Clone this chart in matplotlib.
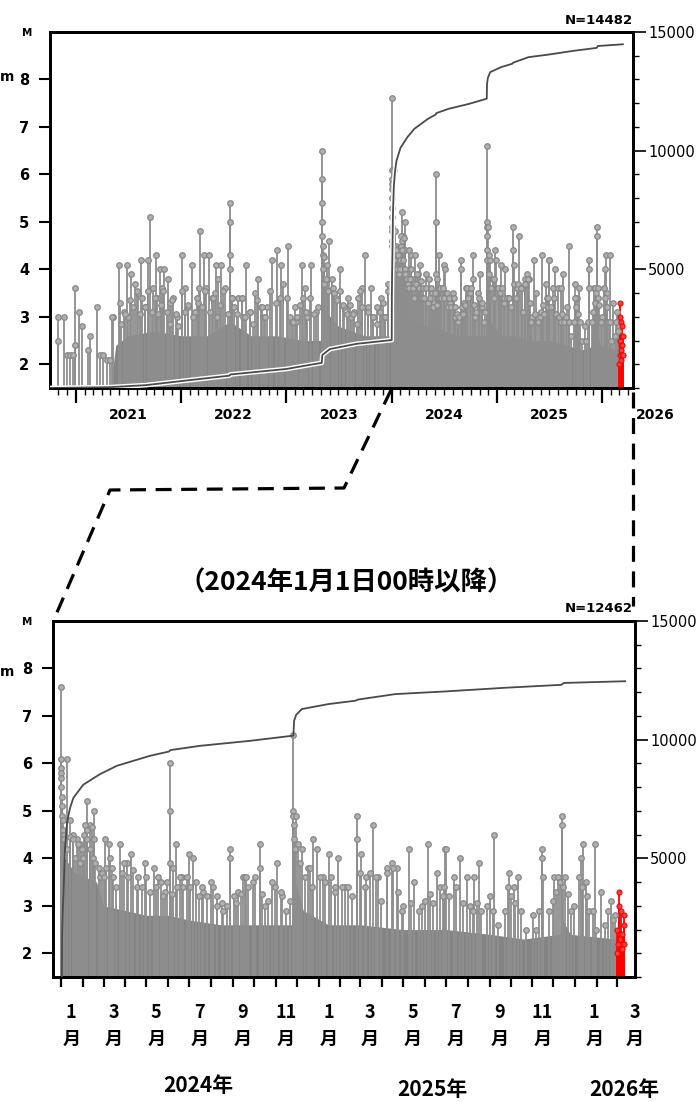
import matplotlib
matplotlib.use('Agg')
import matplotlib.pyplot as plt
import matplotlib.dates as mdates
import matplotlib.patheffects as pe
from matplotlib.lines import Line2D
from matplotlib.ticker import MultipleLocator, NullFormatter
from matplotlib.transforms import blended_transform_factory
import pandas as pd

JP = ['Noto Sans CJK JP', 'DejaVu Sans']

# --- larger events before 2024 (upper panel only) ---
old_dates = ['2020-11-02', '2020-11-02', '2020-11-23', '2020-12-03', '2020-12-13', '2020-12-22',
             '2020-12-28', '2020-12-28', '2021-01-14', '2021-01-22', '2021-02-12', '2021-02-20',
             '2021-03-15', '2021-03-26', '2021-04-06', '2021-04-20', '2021-04-30', '2021-05-12',
             '2021-05-30', '2021-06-05', '2021-06-19', '2021-06-27', '2021-07-03', '2021-07-12',
             '2021-07-24', '2021-08-05', '2021-08-17', '2021-08-30', '2021-09-10', '2021-09-16',
             '2021-09-27', '2021-10-06', '2021-10-10', '2021-10-21', '2021-10-27', '2021-11-02',
             '2021-11-18', '2021-11-25', '2021-12-06', '2021-12-17', '2022-01-03', '2022-01-15',
             '2022-01-26', '2022-02-08', '2022-02-19', '2022-02-28', '2022-03-08', '2022-03-22',
             '2022-03-29', '2022-04-08', '2022-04-17', '2022-04-28', '2022-05-04', '2022-05-09',
             '2022-05-19', '2022-06-02', '2022-06-19', '2022-06-19', '2022-06-20', '2022-06-20',
             '2022-07-05', '2022-07-18', '2022-07-30', '2022-08-05', '2022-08-14', '2022-08-28',
             '2022-09-14', '2022-09-26', '2022-10-07', '2022-10-15', '2022-10-25', '2022-11-14',
             '2022-11-25', '2022-12-01', '2022-12-15', '2023-01-07', '2023-01-20', '2023-01-30',
             '2023-02-03', '2023-02-23', '2023-03-06', '2023-03-15', '2023-03-29', '2023-04-15',
             '2023-05-05', '2023-05-05', '2023-05-05', '2023-05-06', '2023-05-06', '2023-05-07',
             '2023-05-08', '2023-05-10', '2023-05-20', '2023-05-30', '2023-06-07', '2023-06-15',
             '2023-06-24', '2023-07-07', '2023-07-20', '2023-08-03', '2023-08-15', '2023-08-25',
             '2023-09-05', '2023-09-19', '2023-09-30', '2023-10-12', '2023-10-23', '2023-10-30',
             '2023-11-10', '2023-11-25', '2023-12-03', '2023-12-10', '2023-12-18']
old_mag = [3.0, 2.5, 3.0, 2.2, 2.2, 2.2,
           3.6, 2.4, 3.1, 2.8, 2.3, 2.6,
           3.2, 2.2, 2.2, 2.1, 2.1, 3.0,
           4.1, 3.3, 3.1, 4.1, 3.0, 3.9,
           3.7, 3.5, 4.2, 3.2, 4.2, 5.1,
           3.6, 4.3, 3.4, 4.0, 3.6, 4.0,
           3.8, 3.3, 3.4, 3.0, 4.3, 3.6,
           3.2, 4.1, 3.1, 3.3, 4.8, 4.3,
           3.6, 4.3, 3.4, 3.5, 4.1, 3.8,
           4.1, 3.6, 5.4, 5.0, 4.3, 4.0,
           3.2, 3.4, 3.4, 3.0, 4.1, 3.1,
           3.5, 3.8, 3.2, 3.0, 3.2, 4.2,
           3.3, 4.4, 4.1, 4.5, 2.9, 3.2,
           2.9, 4.1, 3.6, 3.0, 4.1, 3.1,
           6.5, 5.9, 5.4, 5.0, 4.7, 4.5,
           4.3, 4.0, 3.8, 4.6, 3.8, 3.5,
           3.4, 4.0, 3.2, 3.4, 3.0, 3.1,
           3.4, 3.6, 4.3, 3.2, 3.6, 3.0,
           3.2, 3.4, 3.3, 3.0, 3.7]

# smaller events sticking out of the dense mass, before 2024
old_mid_dates = ['2021-05-06', '2021-06-07', '2021-06-21', '2021-07-08', '2021-07-20', '2021-07-31',
                 '2021-08-12', '2021-08-20', '2021-08-29', '2021-09-10', '2021-09-21', '2021-10-03',
                 '2021-10-12', '2021-10-24', '2021-11-01', '2021-11-12', '2021-11-24', '2021-12-02',
                 '2021-12-14', '2021-12-23', '2022-01-06', '2022-01-15', '2022-01-27', '2022-02-13',
                 '2022-02-24', '2022-03-05', '2022-03-14', '2022-03-25', '2022-04-11', '2022-04-23',
                 '2022-05-05', '2022-05-16', '2022-05-28', '2022-06-12', '2022-06-26', '2022-06-27',
                 '2022-07-13', '2022-07-30', '2022-08-11', '2022-08-28', '2022-09-09', '2022-09-20',
                 '2022-10-08', '2022-10-19', '2022-11-05', '2022-12-10', '2022-12-22', '2023-01-02',
                 '2023-01-14', '2023-01-25', '2023-02-06', '2023-02-17', '2023-03-01', '2023-03-12',
                 '2023-03-24', '2023-04-08', '2023-04-22', '2023-05-12', '2023-05-12', '2023-05-21',
                 '2023-05-27', '2023-06-13', '2023-06-25', '2023-07-07', '2023-07-18', '2023-07-30',
                 '2023-08-10', '2023-08-22', '2023-09-02', '2023-09-14', '2023-09-22', '2023-10-12',
                 '2023-10-29', '2023-11-13', '2023-11-21', '2023-12-08', '2023-12-20']
old_mid_mag = [3.0, 2.85, 3.05, 3.35, 3.2, 3.55,
               3.05, 3.4, 3.2, 3.55, 3.1, 3.4,
               3.05, 3.25, 3.55, 3.1, 2.85, 3.35,
               3.05, 2.8, 3.55, 3.1, 3.25, 3.0,
               3.4, 3.6, 3.2, 3.55, 3.1, 3.4,
               3.0, 3.25, 3.55, 3.05, 3.4, 3.4,
               3.05, 3.4, 3.0, 3.1, 2.85, 3.35,
               3.2, 3.0, 3.55, 3.4, 3.7, 3.4,
               3.0, 2.9, 3.0, 3.25, 3.4, 3.1,
               3.4, 3.05, 3.2, 4.25, 3.7, 4.1,
               3.55, 3.6, 3.35, 3.55, 3.25, 3.05,
               3.25, 3.05, 2.85, 3.55, 3.2, 3.1,
               3.0, 2.85, 3.1, 3.0, 3.55]

# --- larger events since 2024-01-01 (both panels) ---
new_dates = ['2024-01-01', '2024-01-01', '2024-01-01', '2024-01-01', '2024-01-01', '2024-01-01',
             '2024-01-02', '2024-01-02', '2024-01-02', '2024-01-03', '2024-01-03', '2024-01-04',
             '2024-01-05', '2024-01-09', '2024-01-09', '2024-01-13', '2024-01-17', '2024-01-23',
             '2024-01-28', '2024-02-02', '2024-02-07', '2024-02-07', '2024-02-11', '2024-02-16',
             '2024-02-16', '2024-02-25', '2024-03-03', '2024-03-08', '2024-03-13', '2024-03-24',
             '2024-04-03', '2024-04-09', '2024-04-17', '2024-04-29', '2024-05-11', '2024-05-21',
             '2024-05-27', '2024-06-03', '2024-06-03', '2024-06-03', '2024-06-08', '2024-06-12',
             '2024-06-20', '2024-07-01', '2024-07-06', '2024-07-10', '2024-07-21', '2024-08-01',
             '2024-08-09', '2024-08-18', '2024-08-28', '2024-08-28', '2024-09-08', '2024-09-16',
             '2024-09-18', '2024-09-29', '2024-10-10', '2024-10-10', '2024-10-17', '2024-11-03',
             '2024-11-10', '2024-11-26', '2024-11-26', '2024-11-26', '2024-11-27', '2024-11-27',
             '2024-11-28', '2024-11-30', '2024-12-08', '2024-12-17', '2024-12-24', '2024-12-29',
             '2025-01-07', '2025-01-16', '2025-01-24', '2025-01-29', '2025-02-08', '2025-02-24',
             '2025-02-24', '2025-03-02', '2025-03-10', '2025-03-19', '2025-03-27', '2025-04-08',
             '2025-04-15', '2025-04-22', '2025-05-01', '2025-05-09', '2025-05-17', '2025-05-28',
             '2025-06-06', '2025-06-18', '2025-06-29', '2025-07-01', '2025-07-12', '2025-07-21',
             '2025-07-31', '2025-08-10', '2025-08-17', '2025-08-28', '2025-09-01', '2025-09-08',
             '2025-09-29', '2025-10-06', '2025-10-11', '2025-11-02', '2025-11-15', '2025-11-15',
             '2025-12-02', '2025-12-07', '2025-12-13', '2025-12-13', '2025-12-18', '2025-12-30',
             '2026-01-09', '2026-01-12', '2026-01-16', '2026-01-29', '2026-02-07', '2026-02-21',
             '2026-02-27']
new_mag = [7.6, 6.1, 5.9, 5.8, 5.7, 5.5,
           5.3, 5.1, 4.9, 4.8, 4.6, 4.5,
           4.4, 6.1, 4.2, 4.8, 4.5, 4.4,
           4.3, 4.5, 5.2, 4.6, 4.7, 5.0,
           4.4, 3.6, 4.4, 4.3, 3.8, 4.3,
           3.9, 4.1, 3.4, 3.9, 3.8, 3.5,
           3.3, 6.0, 5.0, 3.9, 3.8, 4.3,
           3.6, 4.1, 4.0, 3.5, 3.3, 3.5,
           3.0, 2.9, 4.2, 4.0, 3.3, 3.6,
           3.6, 3.5, 4.3, 3.8, 3.0, 3.9,
           3.2, 6.6, 5.0, 4.9, 4.7, 4.4,
           4.2, 4.9, 4.2, 3.8, 4.4, 4.2,
           3.6, 4.1, 3.3, 4.0, 3.4, 4.9,
           4.4, 4.1, 3.6, 4.7, 3.6, 3.8,
           3.9, 3.8, 3.0, 4.2, 3.5, 3.0,
           4.3, 3.7, 4.2, 4.2, 3.6, 4.0,
           3.6, 3.6, 3.9, 3.0, 3.2, 4.5,
           3.7, 3.4, 3.6, 2.8, 4.2, 4.0,
           3.6, 3.6, 4.9, 4.7, 3.6, 3.0,
           4.0, 4.3, 3.5, 4.3, 3.3, 3.1,
           2.8]

# smaller events sticking out of the dense mass, since 2024
new_mid_dates = ['2024-01-13', '2024-01-18', '2024-01-20', '2024-01-25', '2024-01-27', '2024-01-30',
                 '2024-02-01', '2024-02-04', '2024-02-06', '2024-02-10', '2024-02-13', '2024-02-15',
                 '2024-02-18', '2024-02-24', '2024-02-27', '2024-03-01', '2024-03-05', '2024-03-10',
                 '2024-03-15', '2024-03-19', '2024-03-27', '2024-03-30', '2024-04-05', '2024-04-12',
                 '2024-04-19', '2024-04-24', '2024-05-01', '2024-05-06', '2024-05-15', '2024-05-18',
                 '2024-05-25', '2024-05-30', '2024-06-06', '2024-06-14', '2024-06-18', '2024-06-22',
                 '2024-06-27', '2024-07-02', '2024-07-14', '2024-07-19', '2024-07-26', '2024-08-04',
                 '2024-08-09', '2024-08-16', '2024-08-23', '2024-09-02', '2024-09-06', '2024-09-13',
                 '2024-09-20', '2024-09-23', '2024-10-02', '2024-10-12', '2024-10-21', '2024-10-26',
                 '2024-10-31', '2024-11-09', '2024-11-16', '2024-11-21', '2024-12-03', '2024-12-05',
                 '2024-12-12', '2024-12-20', '2024-12-22', '2025-01-03', '2025-01-10', '2025-01-19',
                 '2025-01-24', '2025-02-03', '2025-02-12', '2025-02-17', '2025-03-01', '2025-03-08',
                 '2025-03-15', '2025-03-24', '2025-03-31', '2025-04-08', '2025-04-17', '2025-04-24',
                 '2025-04-29', '2025-05-13', '2025-05-23', '2025-06-01', '2025-06-08', '2025-06-13',
                 '2025-06-23', '2025-06-27', '2025-06-28', '2025-07-06', '2025-07-16', '2025-07-25',
                 '2025-08-04', '2025-08-09', '2025-08-14', '2025-08-20', '2025-09-06', '2025-09-13',
                 '2025-09-23', '2025-09-27', '2025-10-02', '2025-10-07', '2025-10-16', '2025-10-23',
                 '2025-11-06', '2025-11-11', '2025-11-16', '2025-11-25', '2025-11-30', '2025-12-05',
                 '2025-12-10', '2025-12-15', '2025-12-21', '2025-12-26', '2026-01-07', '2026-01-11',
                 '2026-01-17', '2026-01-21', '2026-01-26', '2026-01-31', '2026-02-12', '2026-02-17',
                 '2026-02-24']
new_mid_mag = [4.45, 4.4, 4.0, 4.3, 3.9, 4.2,
               4.0, 4.7, 4.4, 4.2, 4.65, 4.0,
               3.9, 3.8, 3.7, 3.6, 3.8, 4.0,
               3.6, 3.4, 3.7, 3.9, 3.6, 3.75,
               3.6, 3.4, 3.6, 3.3, 3.4, 3.6,
               3.2, 3.5, 3.25, 3.4, 3.6, 3.4,
               3.6, 3.4, 3.2, 3.4, 3.2, 3.4,
               3.2, 3.05, 3.0, 3.2, 3.05, 3.25,
               3.6, 3.4, 3.6, 3.25, 3.1, 3.5,
               3.4, 3.3, 2.9, 3.1, 4.3, 3.9,
               3.6, 3.8, 3.4, 3.6, 3.5, 3.6,
               3.4, 3.4, 3.4, 3.2, 3.7, 3.4,
               3.7, 3.6, 3.1, 3.7, 3.8, 3.3,
               2.9, 3.05, 2.9, 3.1, 3.25, 3.05,
               3.4, 3.2, 3.4, 3.2, 3.4, 3.05,
               3.0, 2.9, 3.05, 2.9, 2.9, 2.6,
               2.9, 3.4, 3.2, 3.05, 2.9, 2.5,
               2.5, 2.9, 3.6, 2.9, 3.1, 3.3,
               3.5, 3.4, 3.25, 2.9, 3.6, 3.4,
               3.2, 2.9, 2.9, 2.5, 2.6, 2.9,
               2.7]

# latest events (red)
red_dates = ['2026-03-01', '2026-03-02', '2026-03-03', '2026-03-04', '2026-03-04', '2026-03-05',
             '2026-03-06', '2026-03-07', '2026-03-08', '2026-03-09', '2026-03-10', '2026-03-11',
             '2026-03-12', '2026-03-12']
red_mag = [2.0, 2.5, 2.2, 3.3, 3.0, 2.4, 2.3, 2.9, 2.1, 2.4, 2.2, 2.8, 2.6, 2.2]

# top of the solid mass of small events
old_band_dates = ['2021-05-01', '2021-05-20', '2021-07-01', '2021-10-01', '2022-01-01', '2022-04-01',
                  '2022-06-20', '2022-09-01', '2022-12-01', '2023-03-01', '2023-05-04', '2023-05-06',
                  '2023-07-01', '2023-10-01', '2023-12-31']
old_band_top = [1.5, 2.4, 2.6, 2.7, 2.6, 2.6, 2.9, 2.6, 2.6, 2.5, 2.5, 3.2, 2.8, 2.6, 2.6]
new_band_dates = ['2024-01-01', '2024-01-06', '2024-01-20', '2024-02-20', '2024-03-01', '2024-04-01',
                  '2024-05-01', '2024-06-01', '2024-07-01', '2024-08-15', '2024-10-01', '2024-11-25',
                  '2024-11-27', '2024-12-10', '2025-01-15', '2025-03-01', '2025-05-01', '2025-07-01',
                  '2025-09-01', '2025-10-20', '2025-12-10', '2025-12-14', '2025-12-25', '2026-02-28']
new_band_top = [4.4, 4.0, 3.7, 3.5, 3.0, 2.9, 2.8, 2.8, 2.7, 2.6, 2.6, 2.6,
                3.6, 2.9, 2.6, 2.6, 2.5, 2.5, 2.4, 2.3, 2.4, 2.7, 2.4, 2.3]
red_band_dates = ['2026-03-01', '2026-03-13']
red_band_top = [2.4, 2.4]

# cumulative number of events
old_cum_dates = ['2020-10-01', '2021-01-01', '2021-05-01', '2021-09-01', '2022-01-01', '2022-06-18',
                 '2022-06-21', '2022-12-31', '2023-05-04', '2023-05-06', '2023-06-01', '2023-09-01',
                 '2024-01-01 16:00']
old_cum = [0, 15, 35, 120, 290, 520, 570, 800, 1060, 1390, 1640, 1860, 2020]
new_cum_dates = ['2024-01-01 16:00', '2024-01-02', '2024-01-03', '2024-01-04', '2024-01-06', '2024-01-09',
                 '2024-01-13', '2024-01-18', '2024-02-01', '2024-02-25', '2024-03-20', '2024-05-06',
                 '2024-06-02', '2024-06-04', '2024-07-16', '2024-09-25', '2024-11-26', '2024-11-27',
                 '2024-11-30', '2024-12-08', '2025-01-15', '2025-02-22', '2025-02-26', '2025-04-20',
                 '2025-06-29', '2025-09-25', '2025-12-12', '2025-12-16', '2026-03-13']
new_cum = [0, 1800, 2900, 3600, 5400, 6500, 7100, 7550, 8100, 8550, 8900, 9320,
           9500, 9560, 9740, 9950, 10170, 10800, 11050, 11290, 11500, 11640, 11690, 11920,
           12030, 12190, 12310, 12390, 12462]
n_total = 14482
n_since = 12462

year_labels = ['2021', '2022', '2023', '2024', '2025', '2026']
month_label_dates = ['2024-01-15', '2024-03-15', '2024-05-15', '2024-07-15', '2024-09-15', '2024-11-15',
                     '2025-01-15', '2025-03-15', '2025-05-15', '2025-07-15', '2025-09-15', '2025-11-15',
                     '2026-01-28', '2026-03-27']
month_labels = ['1', '3', '5', '7', '9', '11', '1', '3', '5', '7', '9', '11', '1', '3']


def num(seq):
    return mdates.date2num(pd.to_datetime(seq, format='ISO8601').to_numpy())


W, H = 699, 1102


def box(l, t, r, b):
    return [l / W, 1 - b / H, (r - l) / W, (b - t) / H]


DENSE = '#848484'
STEM = '#8e8e8e'


def draw_panel(ax, ev_d, ev_m, bands, cum_d, cum_n, xlim, outline):
    for bd, bm, col in bands:
        ax.fill_between(num(bd), 1.5, bm, color=col, lw=0, zorder=1)
    x = num(ev_d)
    ax.vlines(x, 1.5, ev_m, color=STEM, lw=1.3, zorder=2)
    ax.plot(x, ev_m, 'o', ls='none', ms=4.0, mfc='#b0b0b0', mec='#888888', mew=0.9, zorder=3)
    xr = num(red_dates)
    ax.vlines(xr, 1.5, red_mag, color='red', lw=1.3, zorder=2)
    ax.plot(xr, red_mag, 'o', ls='none', ms=3.6, mfc='#ff4040', mec='red', mew=0.8, zorder=3)

    ax.set_xlim(num(xlim))
    ax.set_ylim(1.5, 9)
    ax.set_yticks(range(2, 9))
    ax.tick_params(axis='y', direction='out', length=8, width=1.5, labelsize=10.5, pad=7)
    for t in ax.get_yticklabels():
        t.set_fontweight('bold')
    for s in ax.spines.values():
        s.set_linewidth(2)

    axr = ax.twinx()
    axr.set_ylim(0, 15000)
    axr.set_yticks([5000, 10000, 15000])
    axr.yaxis.set_minor_locator(MultipleLocator(1000))
    axr.tick_params(axis='y', which='major', direction='out', length=9, width=1.2, labelsize=10.5, pad=2)
    axr.tick_params(axis='y', which='minor', direction='out', length=4, width=1.0)
    for s in axr.spines.values():
        s.set_linewidth(2)
    eff = [pe.Stroke(linewidth=3.4, foreground='white'), pe.Normal()] if outline else None
    axr.plot(num(cum_d), cum_n, color='#4a4a4a', lw=1.3, zorder=5, path_effects=eff)
    return axr


fig = plt.figure(figsize=(6.99, 11.02), dpi=100)

# upper panel: whole period
ax1 = fig.add_axes(box(50, 32, 633, 388))
top_cum_d = old_cum_dates + new_cum_dates[1:]
top_cum_n = old_cum + [c + (n_total - n_since) for c in new_cum[1:]]
draw_panel(ax1, old_dates + old_mid_dates + new_dates + new_mid_dates,
           old_mag + old_mid_mag + new_mag + new_mid_mag,
           [(old_band_dates, old_band_top, DENSE), (new_band_dates, new_band_top, DENSE),
            (red_band_dates, red_band_top, 'red')],
           top_cum_d, top_cum_n, ['2020-10-04', '2026-04-17'], True)
ax1.xaxis.set_major_locator(mdates.YearLocator())
ax1.xaxis.set_minor_locator(mdates.MonthLocator())
ax1.xaxis.set_major_formatter(NullFormatter())
ax1.tick_params(axis='x', which='major', direction='out', length=11, width=1.6)
ax1.tick_params(axis='x', which='minor', direction='out', length=5, width=1.0)
tr1 = blended_transform_factory(ax1.transData, ax1.transAxes)
for y in year_labels:
    ax1.text(num([y + '-07-02'])[0], -0.077, y, transform=tr1, ha='center', va='center',
             fontsize=10, fontweight='bold', clip_on=False)

# lower panel: since 2024-01-01
ax2 = fig.add_axes(box(53, 621, 635, 977))
draw_panel(ax2, new_dates + new_mid_dates, new_mag + new_mid_mag,
           [(new_band_dates, new_band_top, DENSE), (red_band_dates, red_band_top, 'red')],
           new_cum_dates, new_cum, ['2023-12-20', '2026-03-27'], False)
ax2.xaxis.set_major_locator(mdates.MonthLocator())
ax2.xaxis.set_major_formatter(NullFormatter())
ax2.tick_params(axis='x', which='major', direction='out', length=7, width=1.6)
tr2 = blended_transform_factory(ax2.transData, ax2.transAxes)
for d, lab in zip(num(month_label_dates), month_labels):
    ax2.text(d, (977 - 1012) / 356, lab, transform=tr2, ha='center', va='center',
             fontsize=13, fontweight='bold', family=JP, clip_on=False)
    ax2.text(d, (977 - 1039) / 356, '月', transform=tr2, ha='center', va='center',
             fontsize=13, fontweight='bold', family=JP, clip_on=False)

# texts around the panels
fig.text(27 / W, 1 - 33 / H, 'M', fontsize=7.5, fontweight='bold', ha='center', va='center')
fig.text(27 / W, 1 - 622 / H, 'M', fontsize=7.5, fontweight='bold', ha='center', va='center')
fig.text(0, 1 - 77 / H, 'm', fontsize=10, fontweight='bold', ha='left', va='center')
fig.text(0, 1 - 672 / H, 'm', fontsize=10, fontweight='bold', ha='left', va='center')
fig.text(633 / W, 1 - 20 / H, f'N={n_total}', fontsize=9.5, fontweight='bold', ha='right', va='center')
fig.text(633 / W, 1 - 608 / H, f'N={n_since}', fontsize=9.5, fontweight='bold', ha='right', va='center')
fig.text(346 / W, 1 - 583 / H, '（2024年1月1日00時以降）', fontsize=19, fontweight='bold',
         family=JP, ha='center', va='center')
fig.text(198 / W, 1 - 1086 / H, '2024年', fontsize=15, fontweight='bold', family=JP, ha='center', va='center')
fig.text(432 / W, 1 - 1090 / H, '2025年', fontsize=15, fontweight='bold', family=JP, ha='center', va='center')
fig.text(624 / W, 1 - 1090 / H, '2026年', fontsize=15, fontweight='bold', family=JP, ha='center', va='center')

# dashed zoom guides
path_x = [391, 344, 110, 55]
path_y = [390, 488, 490, 617]
fig.add_artist(Line2D([v / W for v in path_x], [1 - v / H for v in path_y], transform=fig.transFigure,
                      color='black', lw=2.3, ls=(0, (5, 3))))
fig.add_artist(Line2D([633 / W, 633 / W], [1 - 392 / H, 1 - 606 / H], transform=fig.transFigure,
                      color='black', lw=2.3, ls=(0, (5, 3))))

fig.savefig('out.png', dpi=100)
